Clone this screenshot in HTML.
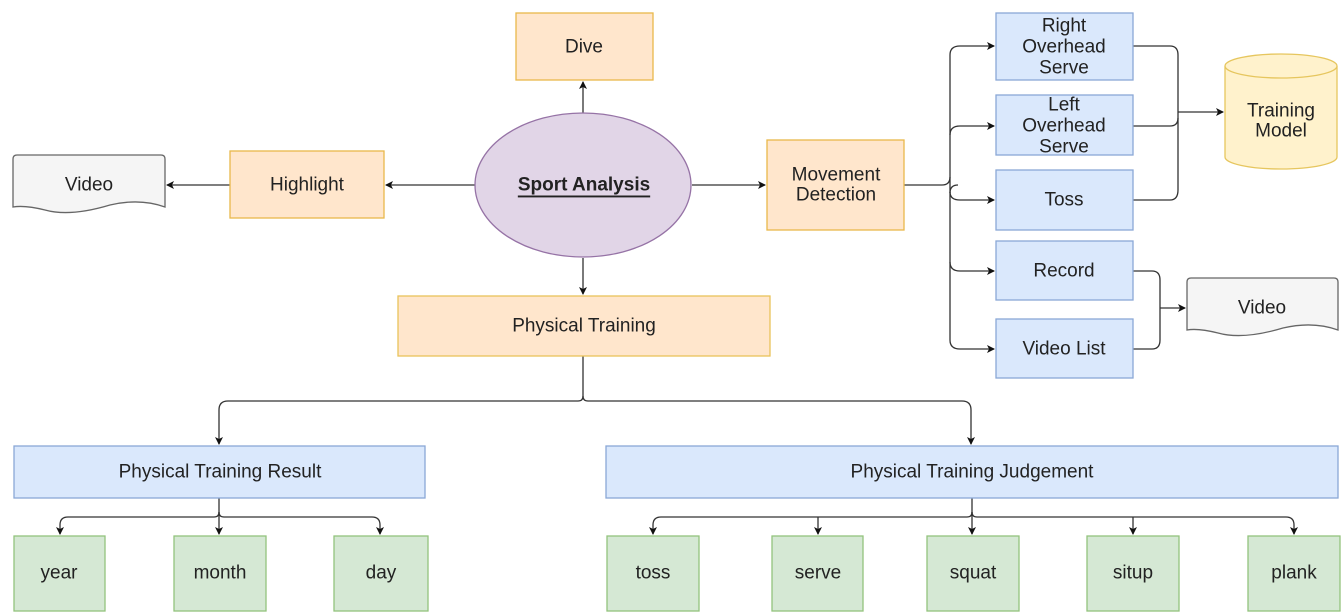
<!DOCTYPE html>
<html><head><meta charset="utf-8"><style>
html,body{margin:0;padding:0;background:#fff;}
svg{display:block;}
text{font-family:"Liberation Sans",sans-serif;font-size:19px;fill:#222;text-anchor:middle;dominant-baseline:central;}
</style></head><body>
<svg width="1342" height="613" viewBox="0 0 1342 613" xmlns="http://www.w3.org/2000/svg">
<defs><marker id="a" markerWidth="8" markerHeight="8" refX="7" refY="4" orient="auto" markerUnits="userSpaceOnUse"><path d="M0,0 L8,4 L0,8 L2,4 Z" fill="#111"/></marker></defs>
<g fill="none" stroke="#333" stroke-width="1.3">
<path d="M583,113 V82" marker-end="url(#a)"/>
<path d="M475,185 H386" marker-end="url(#a)"/>
<path d="M230,185 H167" marker-end="url(#a)"/>
<path d="M692,185 H765" marker-end="url(#a)"/>
<path d="M583,258 V294" marker-end="url(#a)"/>
<!-- movement detection branches -->
<path d="M904,185 H942 Q950,185 950,177"/>
<path d="M950,193 Q950,185 958,185"/>
<path d="M950,340 V55 Q950,46 960,46 H994" marker-end="url(#a)"/>
<path d="M950,135 Q950,126 960,126 H994" marker-end="url(#a)"/>
<path d="M950,192 Q950,200 960,200 H994" marker-end="url(#a)"/>
<path d="M950,262 Q950,271 960,271 H994" marker-end="url(#a)"/>
<path d="M950,340 Q950,349 960,349 H994" marker-end="url(#a)"/>
<!-- to training model -->
<path d="M1133,46 H1170 Q1178,46 1178,55 V190 Q1178,200 1170,200 H1133"/>
<path d="M1133,126 H1170 Q1178,126 1178,118"/>
<path d="M1178,112 H1223" marker-end="url(#a)"/>
<!-- to video right -->
<path d="M1133,271 H1152 Q1160,271 1160,280 V340 Q1160,349 1152,349 H1133"/>
<path d="M1160,308 H1185" marker-end="url(#a)"/>
<!-- physical training tree -->
<path d="M583,356 V396 Q583,401 578,401 H228 Q219,401 219,410 V444" marker-end="url(#a)"/>
<path d="M583,396 Q583,401 588,401 H962 Q971,401 971,410 V444" marker-end="url(#a)"/>
<path d="M219,498 V534" marker-end="url(#a)"/>
<path d="M219,512 Q219,517 214,517 H68 Q60,517 60,525 V534" marker-end="url(#a)"/>
<path d="M219,512 Q219,517 224,517 H372 Q380,517 380,525 V534" marker-end="url(#a)"/>
<path d="M972,498 V534" marker-end="url(#a)"/>
<path d="M972,512 Q972,517 967,517 H661 Q653,517 653,525 V534" marker-end="url(#a)"/>
<path d="M972,512 Q972,517 977,517 H1286 Q1294,517 1294,525 V534" marker-end="url(#a)"/>
<path d="M818,517 V534" marker-end="url(#a)"/>
<path d="M1133,517 V534" marker-end="url(#a)"/>
</g>
<g stroke-width="1.3">
<rect x="516" y="13" width="137" height="67" fill="#ffe6cc" stroke="#e9b84a"/>
<rect x="230" y="151" width="154" height="67" fill="#ffe6cc" stroke="#e9b84a"/>
<rect x="398" y="296" width="372" height="60" fill="#ffe6cc" stroke="#e9c35a"/>
<rect x="767" y="140" width="137" height="90" fill="#ffe6cc" stroke="#e9b84a"/>
<ellipse cx="583" cy="185" rx="108" ry="72" fill="#e1d5e7" stroke="#9673a6"/>
<path d="M13,159 Q13,155 17,155 H161 Q165,155 165,159 V207 Q140,198 110,205 Q70,217 45,210 Q25,205 13,207 Z" fill="#f5f5f5" stroke="#666"/>
<path d="M1187,282 Q1187,278 1191,278 H1334 Q1338,278 1338,282 V330 Q1313,321 1283,328 Q1243,340 1218,333 Q1198,328 1187,330 Z" fill="#f5f5f5" stroke="#666"/>
<g fill="#dae8fc" stroke="#8aa8d6">
<rect x="996" y="13" width="137" height="67"/>
<rect x="996" y="95" width="137" height="60"/>
<rect x="996" y="170" width="137" height="60"/>
<rect x="996" y="241" width="137" height="59"/>
<rect x="996" y="319" width="137" height="59"/>
<rect x="14" y="446" width="411" height="52"/>
<rect x="606" y="446" width="732" height="52"/>
</g>
<path d="M1225,66 V157 A56,12 0 0 0 1337,157 V66" fill="#fff2cc" stroke="#e6c65e"/>
<ellipse cx="1281" cy="66" rx="56" ry="12" fill="#fff2cc" stroke="#e6c65e"/>
<g fill="#d5e8d4" stroke="#93c47d">
<rect x="14" y="536" width="91" height="75"/>
<rect x="174" y="536" width="92" height="75"/>
<rect x="334" y="536" width="94" height="75"/>
<rect x="607" y="536" width="92" height="75"/>
<rect x="772" y="536" width="91" height="75"/>
<rect x="927" y="536" width="92" height="75"/>
<rect x="1087" y="536" width="92" height="75"/>
<rect x="1248" y="536" width="92" height="75"/>
</g>
</g>
<text x="584" y="47">Dive</text>
<text x="307" y="185">Highlight</text>
<text x="89" y="185">Video</text>
<text x="584" y="185" style="font-weight:bold;text-decoration:underline">Sport Analysis</text>
<text x="584" y="326">Physical Training</text>
<text x="836" y="175">Movement</text>
<text x="836" y="195">Detection</text>
<text x="1064" y="26">Right</text>
<text x="1064" y="47">Overhead</text>
<text x="1064" y="68">Serve</text>
<text x="1064" y="105">Left</text>
<text x="1064" y="126">Overhead</text>
<text x="1064" y="147">Serve</text>
<text x="1064" y="200">Toss</text>
<text x="1064" y="271">Record</text>
<text x="1064" y="349">Video List</text>
<text x="1281" y="111">Training</text>
<text x="1281" y="131">Model</text>
<text x="1262" y="308">Video</text>
<text x="220" y="472">Physical Training Result</text>
<text x="972" y="472">Physical Training Judgement</text>
<text x="59" y="573">year</text>
<text x="220" y="573">month</text>
<text x="381" y="573">day</text>
<text x="653" y="573">toss</text>
<text x="818" y="573">serve</text>
<text x="973" y="573">squat</text>
<text x="1133" y="573">situp</text>
<text x="1294" y="573">plank</text>
</svg>
</body></html>
